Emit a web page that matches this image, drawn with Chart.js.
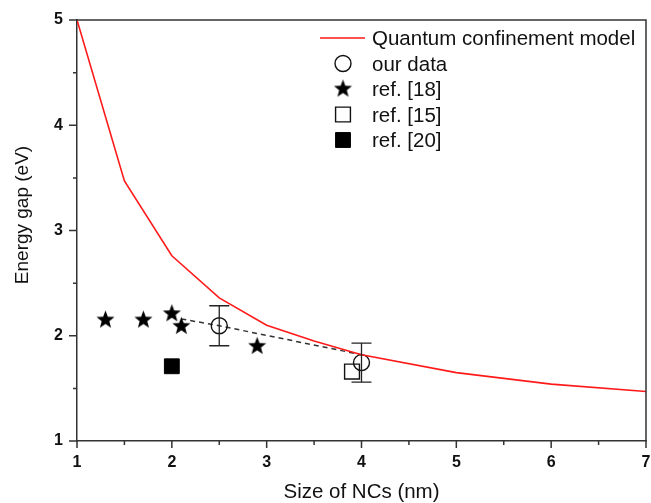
<!DOCTYPE html>
<html>
<head>
<meta charset="utf-8">
<script src="https://cdn.jsdelivr.net/npm/chart.js@4.4.0/dist/chart.umd.min.js"></script>
<style>
  html, body { margin: 0; padding: 0; background: #fff; }
  canvas { display: block; }
</style>
</head>
<body>
<canvas id="plot" width="651" height="503"></canvas>
<script>
// quantum confinement model curve
const modelSize = [1, 1.5, 2, 2.5, 3, 3.5, 4, 5, 6, 7];
const modelGap = [5, 3.47, 2.76, 2.36, 2.10, 1.95, 1.82, 1.65, 1.54, 1.47];

// our data with error bars
const ourSize = [2.5, 4];
const ourGap = [2.095, 1.745];
const ourErr = [0.19, 0.185];

// dashed guide line through our data
const trendSize = [2.1, 2.5, 4];
const trendGap = [2.16, 2.095, 1.82];

// literature values
const ref18Size = [1.3, 1.7, 2.0, 2.1, 2.9];
const ref18Gap = [2.15, 2.15, 2.21, 2.09, 1.90];
const ref15Size = [3.9];
const ref15Gap = [1.66];
const ref20Size = [2.0];
const ref20Gap = [1.71];

const xTitle = 'Size of NCs (nm)';
const yTitle = 'Energy gap (eV)';

function pairs(xs, ys) {
  return xs.map(function(x, i) {
    return {x: x, y: ys[i]};
  });
}

function makeStar(r) {
  const c = document.createElement('canvas');
  const s = Math.ceil(r * 2 + 2);
  c.width = s;
  c.height = s;
  const g = c.getContext('2d');
  g.fillStyle = '#000';
  g.beginPath();
  for (let i = 0; i < 10; i++) {
    const rad = i % 2 === 0 ? r : r * 0.42;
    const a = -Math.PI / 2 + i * Math.PI / 5;
    const px = s / 2 + rad * Math.cos(a);
    const py = s / 2 + rad * Math.sin(a);
    if (i === 0) g.moveTo(px, py); else g.lineTo(px, py);
  }
  g.closePath();
  g.fill();
  return c;
}

const starImg = makeStar(9.5);
const FONT = '"Liberation Sans", Arial, sans-serif';

const extras = {
  id: 'extras',
  afterDatasetsDraw(chart) {
    const ctx = chart.ctx;
    const a = chart.chartArea;
    const x = chart.scales.x;
    const y = chart.scales.y;
    ctx.save();

    // error bars for our data
    ctx.strokeStyle = '#222';
    ctx.lineWidth = 1.3;
    ourSize.forEach(function(s, i) {
      const px = x.getPixelForValue(s);
      const top = y.getPixelForValue(ourGap[i] + ourErr[i]);
      const bot = y.getPixelForValue(ourGap[i] - ourErr[i]);
      ctx.beginPath();
      ctx.moveTo(px, top); ctx.lineTo(px, bot);
      ctx.moveTo(px - 10, top); ctx.lineTo(px + 10, top);
      ctx.moveTo(px - 10, bot); ctx.lineTo(px + 10, bot);
      ctx.stroke();
    });

    // frame top / right
    ctx.strokeStyle = '#333';
    ctx.lineWidth = 1.5;
    ctx.beginPath();
    ctx.moveTo(a.left, a.top);
    ctx.lineTo(a.right, a.top);
    ctx.lineTo(a.right, a.bottom);
    ctx.stroke();

    // outward ticks, major and minor
    ctx.beginPath();
    for (let v = 1; v <= 7.001; v += 0.5) {
      const px = x.getPixelForValue(v);
      const len = Math.abs(v - Math.round(v)) < 1e-6 ? 7 : 4;
      ctx.moveTo(px, a.bottom);
      ctx.lineTo(px, a.bottom + len);
    }
    for (let v = 1; v <= 5.001; v += 0.5) {
      const py = y.getPixelForValue(v);
      const len = Math.abs(v - Math.round(v)) < 1e-6 ? 8 : 4;
      ctx.moveTo(a.left, py);
      ctx.lineTo(a.left - len, py);
    }
    ctx.stroke();

    // axis titles
    ctx.fillStyle = '#111';
    ctx.font = '20.5px ' + FONT;
    ctx.textAlign = 'center';
    ctx.textBaseline = 'alphabetic';
    ctx.fillText(xTitle, (a.left + a.right) / 2, 498);
    ctx.save();
    ctx.translate(28, 215);
    ctx.rotate(-Math.PI / 2);
    ctx.font = '19px ' + FONT;
    ctx.fillText(yTitle, 0, 0);
    ctx.restore();

    // legend
    const rowY = [38, 63.5, 89, 114.5, 140];
    const markX = 343;
    const textX = 372;
    ctx.font = '20.5px ' + FONT;
    ctx.textAlign = 'left';
    const items = chart.data.datasets.filter(function(d) { return d.label; });
    items.forEach(function(d, i) {
      const yy = rowY[i];
      if (d.showLine && d.pointRadius === 0) {
        ctx.strokeStyle = d.borderColor;
        ctx.lineWidth = d.borderWidth;
        ctx.beginPath();
        ctx.moveTo(320, yy);
        ctx.lineTo(365, yy);
        ctx.stroke();
      } else {
        ctx.fillStyle = d.pointBackgroundColor;
        ctx.strokeStyle = d.pointBorderColor;
        ctx.lineWidth = d.pointBorderWidth;
        Chart.helpers.drawPoint(ctx, {
          pointStyle: d.pointStyle,
          radius: d.pointRadius,
          rotation: 0,
          borderWidth: d.pointBorderWidth
        }, markX, yy);
      }
      ctx.fillStyle = '#111';
      ctx.fillText(d.label, textX, yy + 7);
    });

    ctx.restore();
  }
};

const config = {
  type: 'scatter',
  plugins: [extras],
  data: {
    datasets: [
      {
        label: 'Quantum confinement model',
        data: pairs(modelSize, modelGap),
        showLine: true,
        borderColor: '#ff1a1a',
        borderWidth: 1.6,
        pointRadius: 0,
        fill: false,
        tension: 0
      },
      {
        label: 'our data',
        data: pairs(ourSize, ourGap),
        pointStyle: 'circle',
        pointRadius: 8,
        pointBorderWidth: 1.4,
        pointBorderColor: '#111',
        pointBackgroundColor: 'rgba(0,0,0,0)'
      },
      {
        label: 'ref. [18]',
        data: pairs(ref18Size, ref18Gap),
        pointStyle: starImg,
        pointRadius: 9.5,
        pointBorderWidth: 0,
        pointBorderColor: '#000',
        pointBackgroundColor: '#000'
      },
      {
        label: 'ref. [15]',
        data: pairs(ref15Size, ref15Gap),
        pointStyle: 'rect',
        pointRadius: 10.5,
        pointBorderWidth: 1.4,
        pointBorderColor: '#111',
        pointBackgroundColor: '#fff'
      },
      {
        label: 'ref. [20]',
        data: pairs(ref20Size, ref20Gap),
        pointStyle: 'rect',
        pointRadius: 10.5,
        pointBorderWidth: 1,
        pointBorderColor: '#000',
        pointBackgroundColor: '#000'
      },
      {
        label: '',
        data: pairs(trendSize, trendGap),
        showLine: true,
        borderColor: '#333',
        borderWidth: 1.5,
        borderDash: [5, 4],
        pointRadius: 0,
        fill: false
      }
    ]
  },
  options: {
    responsive: false,
    animation: false,
    devicePixelRatio: 1,
    layout: {
      autoPadding: false,
      padding: {top: 20, right: 5, left: 0, bottom: 0}
    },
    plugins: {
      legend: {display: false},
      tooltip: {enabled: false}
    },
    scales: {
      x: {
        type: 'linear',
        min: 1,
        max: 7,
        afterFit: function(scale) {
          scale.height = 62;
          scale.paddingLeft = 0;
          scale.paddingRight = 0;
        },
        ticks: {
          stepSize: 1,
          padding: 12,
          color: '#111',
          font: {family: FONT, size: 16, weight: 'bold'}
        },
        grid: {display: false, drawTicks: false},
        border: {display: true, color: '#333', width: 1.5}
      },
      y: {
        type: 'linear',
        min: 1,
        max: 5,
        afterFit: function(scale) {
          scale.width = 77;
          scale.paddingTop = 0;
          scale.paddingBottom = 0;
        },
        ticks: {
          stepSize: 1,
          padding: 14,
          color: '#111',
          font: {family: FONT, size: 16, weight: 'bold'}
        },
        grid: {display: false, drawTicks: false},
        border: {display: true, color: '#333', width: 1.5}
      }
    }
  }
};

const canvas = document.getElementById('plot');
const chart = new Chart(canvas.getContext('2d'), config);
</script>
</body>
</html>
